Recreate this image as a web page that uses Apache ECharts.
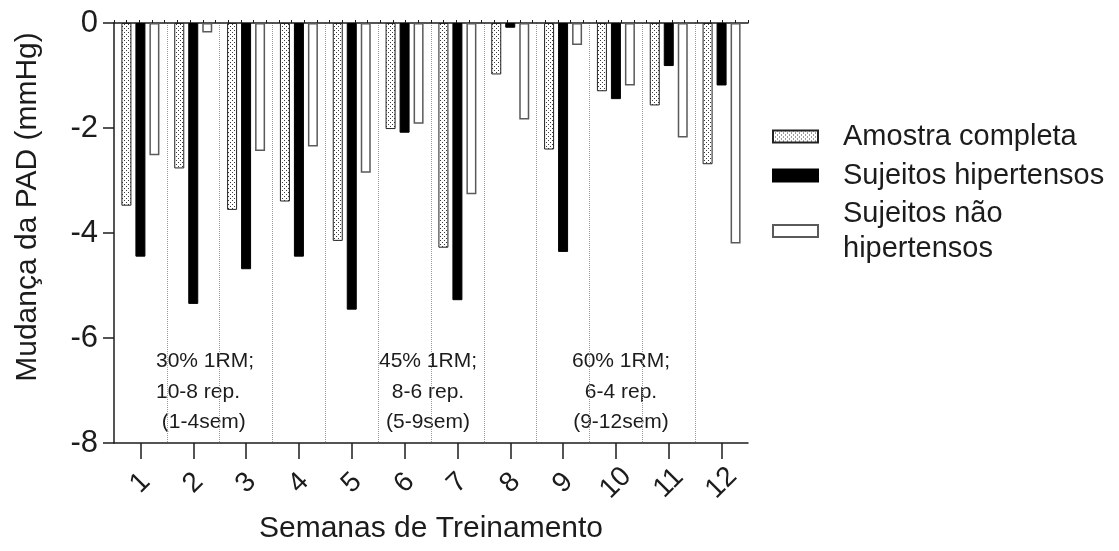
<!DOCTYPE html>
<html>
<head>
<meta charset="utf-8">
<script src="https://cdn.jsdelivr.net/npm/echarts@6/dist/echarts.min.js"></script>
<style>
  html, body { margin: 0; padding: 0; background: #fff; }
  #chart { width: 1119px; height: 551px; }
</style>
</head>
<body>
<div id="chart"></div>
<script>
// Training weeks and the change in diastolic pressure (mmHg) for each group
const weeks = ['1', '2', '3', '4', '5', '6', '7', '8', '9', '10', '11', '12'];
const amostraCompleta = [-3.48, -2.77, -3.56, -3.40, -4.15, -2.02, -4.28, -0.98, -2.41, -1.30, -1.57, -2.69];
const hipertensos = [-4.45, -5.35, -4.69, -4.45, -5.46, -2.09, -5.28, -0.09, -4.36, -1.45, -0.82, -1.19];
const naoHipertensos = [-2.52, -0.18, -2.44, -2.35, -2.85, -1.92, -3.26, -1.84, -0.42, -1.19, -2.18, -4.20];
const seriesNames = ['Amostra completa', 'Sujeitos hipertensos', 'Sujeitos não\nhipertensos'];
const phaseNotes = [
  '30% 1RM;\n10-8 rep.\n (1-4sem)',
  '45% 1RM;\n8-6 rep.\n(5-9sem)',
  '60% 1RM;\n6-4 rep.\n(9-12sem)'
];

const FONT = '"Liberation Sans", Arial, Helvetica, sans-serif';
const INK = '#1c1c1c';

// small stippled fill for the full-sample bars
function stipple() {
  const c = document.createElement('canvas');
  c.width = 4; c.height = 4;
  const g = c.getContext('2d');
  g.fillStyle = '#ffffff';
  g.fillRect(0, 0, 4, 4);
  g.fillStyle = '#3a3a3a';
  g.fillRect(0, 0, 1, 1);
  g.fillRect(2, 2, 1, 1);
  return { image: c, repeat: 'repeat' };
}
const dotFill = stipple();

const chart = echarts.init(document.getElementById('chart'), null, { renderer: 'canvas' });

const legendBase = {
  orient: 'vertical',
  left: 772,
  padding: 0,
  icon: 'rect',
  itemWidth: 45,
  itemHeight: 12,
  selectedMode: false,
  textStyle: { fontFamily: FONT, fontSize: 29, color: INK, lineHeight: 35, padding: [0, 0, 0, 20] }
};

chart.setOption({
  animation: false,
  backgroundColor: '#ffffff',
  grid: { left: 114, top: 23, right: 371, bottom: 108, containLabel: false },
  legend: [
    Object.assign({}, legendBase, { top: 119, data: [seriesNames[0]] }),
    Object.assign({}, legendBase, { top: 158, data: [seriesNames[1]] }),
    Object.assign({}, legendBase, { top: 196, data: [seriesNames[2]] })
  ],
  xAxis: [
    {
      type: 'category',
      data: weeks,
      position: 'bottom',
      axisLine: { onZero: false, lineStyle: { color: INK, width: 1.5 } },
      axisTick: { show: true, alignWithLabel: true, length: 16, lineStyle: { color: INK, width: 1.5 } },
      axisLabel: {
        rotate: 45,
        margin: 40,
        align: 'center',
        verticalAlign: 'middle',
        fontFamily: FONT,
        fontSize: 28,
        color: INK
      },
      splitLine: {
        show: true,
        showMinLine: false,
        showMaxLine: false,
        lineStyle: { color: '#9a9a9a', type: 'dotted', width: 1 }
      },
      name: 'Semanas de Treinamento',
      nameLocation: 'middle',
      nameGap: 71,
      nameTextStyle: { fontFamily: FONT, fontSize: 30, color: INK }
    },
    {
      // zero line along the top with its fine tick marks
      type: 'value',
      position: 'top',
      min: 0,
      max: 50,
      interval: 1,
      axisLine: { show: true, onZero: false, lineStyle: { color: INK, width: 1.5 } },
      axisTick: { show: true, length: 3, lineStyle: { color: INK, width: 1 } },
      axisLabel: { show: false },
      splitLine: { show: false }
    }
  ],
  yAxis: {
    type: 'value',
    min: -8,
    max: 0,
    interval: 2,
    axisLine: { show: true, onZero: false, lineStyle: { color: INK, width: 1.5 } },
    axisTick: { show: true, length: 11, lineStyle: { color: INK, width: 1.5 } },
    axisLabel: { margin: 16, fontFamily: FONT, fontSize: 31, color: INK },
    splitLine: { show: false }
  },
  series: [
    {
      name: seriesNames[0],
      type: 'bar',
      xAxisIndex: 0,
      data: amostraCompleta,
      barWidth: 10,
      barGap: '40%',
      itemStyle: { color: dotFill, borderColor: '#222', borderWidth: 1 }
    },
    {
      name: seriesNames[1],
      type: 'bar',
      xAxisIndex: 0,
      data: hipertensos,
      barWidth: 10,
      barGap: '40%',
      itemStyle: { color: '#000000', borderColor: '#000000', borderWidth: 1 }
    },
    {
      name: seriesNames[2],
      type: 'bar',
      xAxisIndex: 0,
      data: naoHipertensos,
      barWidth: 10,
      barGap: '40%',
      itemStyle: { color: '#ffffff', borderColor: '#5a5a5a', borderWidth: 1.5 }
    }
  ],
  graphic: [
    {
      type: 'text',
      x: 28,
      y: 207,
      rotation: Math.PI / 2,
      style: {
        text: 'Mudança da PAD (mmHg)',
        font: '30px ' + FONT,
        fill: INK,
        align: 'center',
        verticalAlign: 'middle'
      }
    },
    {
      type: 'text',
      x: 156,
      y: 392,
      style: {
        text: phaseNotes[0],
        font: '21px ' + FONT,
        fill: INK,
        lineHeight: 30.5,
        align: 'left',
        verticalAlign: 'middle'
      }
    },
    {
      type: 'text',
      x: 428,
      y: 392,
      style: {
        text: phaseNotes[1],
        font: '21px ' + FONT,
        fill: INK,
        lineHeight: 30.5,
        align: 'center',
        verticalAlign: 'middle'
      }
    },
    {
      type: 'text',
      x: 621,
      y: 392,
      style: {
        text: phaseNotes[2],
        font: '21px ' + FONT,
        fill: INK,
        lineHeight: 30.5,
        align: 'center',
        verticalAlign: 'middle'
      }
    }
  ]
});
</script>
</body>
</html>
